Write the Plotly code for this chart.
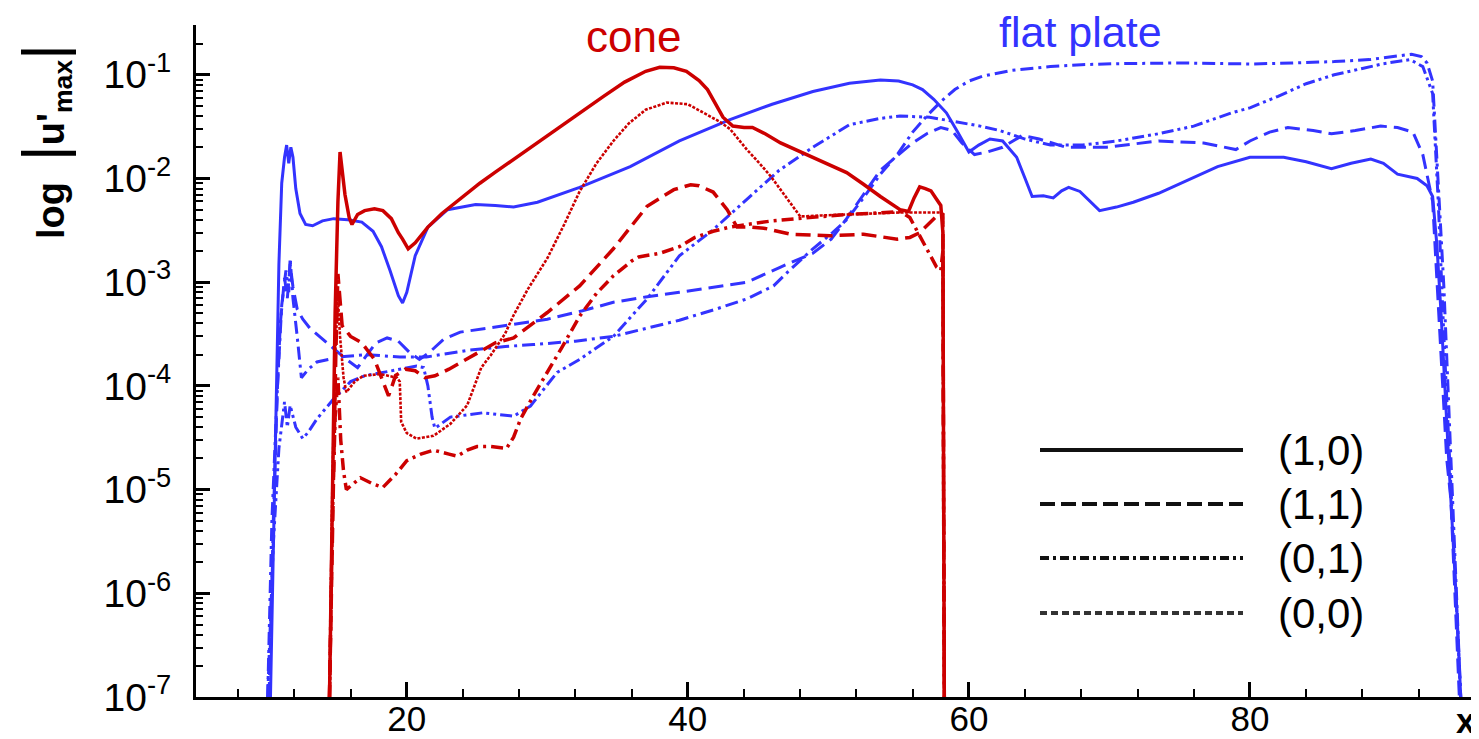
import plotly.graph_objects as go

# ---------------- data ----------------
# flat plate (blue)
fp_x_10 = [10.3, 10.5, 10.7, 10.9, 11.1, 11.3, 11.45, 11.6, 11.75, 11.9, 12.1, 12.4, 12.8, 13.3, 14.0, 14.8, 15.8, 16.8, 17.6, 18.2, 18.8, 19.4, 19.7, 20.0, 20.6, 21.5, 22.9, 24.9, 26.3, 27.6, 29.3, 32.3, 35.9, 39.4, 43.0, 46.0, 48.9, 51.5, 53.7, 55.0, 56.0, 56.7, 57.5, 58.4, 59.2, 60.0, 60.7, 61.5, 62.4, 63.4, 64.0, 64.5, 65.3, 66.0, 66.6, 67.1, 67.9, 68.6, 69.3, 70.5, 71.7, 73.5, 75.2, 77.7, 80.0, 82.4, 84.0, 85.8, 87.2, 88.6, 89.5, 90.5, 91.9, 92.6, 93.0, 93.3, 93.6, 93.8, 94.1, 94.3, 94.7, 95.0]
fp_y_10 = [1e-7, 3e-6, 1e-4, 1.5e-3, 9e-3, 0.016, 0.021, 0.014, 0.02, 0.016, 8e-3, 4.6e-3, 3.6e-3, 3.5e-3, 3.9e-3, 4.1e-3, 4.0e-3, 3.8e-3, 3.1e-3, 2.2e-3, 1.3e-3, 7.4e-4, 6.3e-4, 8e-4, 1.8e-3, 3.4e-3, 5.0e-3, 5.6e-3, 5.5e-3, 5.3e-3, 5.9e-3, 8.2e-3, 0.013, 0.023, 0.037, 0.052, 0.069, 0.083, 0.089, 0.087, 0.08, 0.072, 0.058, 0.043, 0.028, 0.018, 0.021, 0.024, 0.023, 0.016, 0.01, 6.7e-3, 6.8e-3, 6.5e-3, 7.6e-3, 8.2e-3, 7.5e-3, 6e-3, 4.9e-3, 5.3e-3, 5.9e-3, 7.2e-3, 9.2e-3, 0.013, 0.016, 0.016, 0.0145, 0.0124, 0.014, 0.0154, 0.014, 0.011, 0.010, 8.5e-3, 6.7e-3, 2.3e-3, 5e-4, 1.35e-4, 2.5e-5, 7.9e-6, 8e-7, 1e-7]

fp_x_11 = [10.2, 10.5, 10.8, 11.0, 11.3, 11.5, 11.7, 11.9, 12.2, 12.6, 13.1, 13.9, 14.8, 15.7, 16.5, 17.2, 17.8, 18.6, 19.4, 20.2, 20.9, 21.6, 22.6, 23.8, 25.2, 27.5, 30.0, 32.5, 34.7, 37.0, 39.4, 42.0, 44.2, 46.6, 48.9, 50.2, 51.3, 52.5, 53.7, 55.0, 56.0, 57.0, 58.0, 58.8, 59.5, 60.4, 61.3, 62.4, 63.8, 65.0, 66.9, 69.8, 73.5, 76.7, 79.0, 80.0, 81.4, 82.7, 84.5, 85.8, 87.5, 89.3, 90.5, 91.6, 92.3, 93.0, 93.5, 94.0, 94.3, 94.9]
fp_y_11 = [1e-7, 5e-6, 1e-4, 4e-4, 1.1e-3, 7e-4, 1.5e-3, 9e-4, 5.5e-4, 4.4e-4, 3.6e-4, 2.9e-4, 2.3e-4, 1.8e-4, 1.5e-4, 2.0e-4, 2.6e-4, 2.9e-4, 2.7e-4, 2.1e-4, 1.8e-4, 2.1e-4, 2.8e-4, 3.3e-4, 3.5e-4, 3.9e-4, 4.4e-4, 5.3e-4, 6.4e-4, 7.2e-4, 8e-4, 9e-4, 1.0e-3, 1.4e-3, 1.9e-3, 2.6e-3, 4.1e-3, 7e-3, 0.012, 0.017, 0.022, 0.027, 0.031, 0.029, 0.022, 0.017, 0.018, 0.020, 0.026, 0.024, 0.020, 0.020, 0.023, 0.022, 0.019, 0.023, 0.028, 0.031, 0.029, 0.027, 0.029, 0.032, 0.031, 0.028, 0.017, 6e-3, 3.5e-4, 2e-5, 8e-6, 1e-7]

fp_x_01 = [10.1, 10.4, 10.8, 11.1, 11.4, 11.6, 11.7, 11.9, 12.2, 12.5, 13.0, 13.6, 15.2, 17.1, 19.5, 21.4, 24.3, 27.0, 29.0, 32.0, 34.7, 37.0, 39.4, 42.0, 44.2, 46.1, 47.1, 48.9, 50.3, 51.3, 52.5, 53.7, 54.9, 56.0, 57.0, 58.0, 59.0, 60.0, 61.0, 63.0, 65.8, 68.0, 70.5, 75.2, 80.0, 83.0, 86.0, 88.5, 90.5, 91.5, 92.2, 92.6, 93.0, 93.3, 93.8, 94.3, 95.0]
fp_y_01 = [1e-7, 5e-6, 1e-4, 6e-4, 1.3e-3, 8e-4, 1.7e-3, 7e-4, 3e-4, 1.2e-4, 1.45e-4, 1.7e-4, 1.9e-4, 2.0e-4, 1.9e-4, 1.9e-4, 2.2e-4, 2.4e-4, 2.5e-4, 2.7e-4, 3.0e-4, 3.6e-4, 4.3e-4, 5.5e-4, 6.9e-4, 9.2e-4, 1.25e-3, 2.1e-3, 3e-3, 4e-3, 6.5e-3, 0.011, 0.017, 0.028, 0.040, 0.055, 0.072, 0.087, 0.097, 0.11, 0.12, 0.125, 0.128, 0.130, 0.127, 0.13, 0.134, 0.14, 0.152, 0.158, 0.15, 0.13, 0.087, 0.016, 9e-4, 2e-5, 1e-7]

fp_x_00 = [10.1, 10.5, 10.9, 11.3, 11.5, 11.7, 12.1, 12.6, 13.0, 13.6, 14.8, 16.0, 17.0, 18.3, 19.5, 20.7, 21.2, 21.5, 21.8, 22.0, 23.1, 25.4, 27.6, 28.8, 30.7, 32.3, 34.7, 37.1, 39.4, 41.8, 44.2, 46.5, 48.9, 51.5, 53.7, 55.1, 57.2, 58.7, 60.8, 62.2, 64.0, 65.8, 68.1, 70.5, 73.5, 76.0, 78.7, 80.0, 82.0, 84.0, 86.0, 88.0, 89.5, 91.4, 92.3, 93.0, 93.4, 93.8, 94.3, 95.0]
fp_y_00 = [1e-7, 3e-6, 2.5e-5, 7e-5, 4e-5, 6.5e-5, 4e-5, 3.1e-5, 3.6e-5, 4.8e-5, 7.5e-5, 1.1e-4, 1.25e-4, 1.35e-4, 1.45e-4, 1.55e-4, 1.5e-4, 1e-4, 5e-5, 3.9e-5, 5.0e-5, 5.5e-5, 5.1e-5, 6.4e-5, 1.35e-4, 1.8e-4, 3.0e-4, 6.9e-4, 1.8e-3, 3.2e-3, 6.3e-3, 0.012, 0.020, 0.033, 0.038, 0.040, 0.039, 0.036, 0.032, 0.029, 0.024, 0.021, 0.021, 0.023, 0.027, 0.032, 0.043, 0.048, 0.062, 0.082, 0.1, 0.115, 0.128, 0.14, 0.12, 0.066, 6e-3, 3e-4, 1e-5, 1e-7]

# cone (red)
cone_x_10 = [14.5, 14.7, 14.9, 15.1, 15.25, 15.4, 15.6, 15.9, 16.1, 16.5, 17.0, 17.7, 18.3, 18.9, 19.4, 19.7, 20.1, 20.6, 21.5, 22.5, 23.9, 25.2, 26.3, 27.5, 29.5, 31.0, 32.5, 34.0, 35.5, 37.0, 38.0, 39.0, 39.9, 40.8, 41.4, 42.0, 42.5, 43.2, 44.0, 44.6, 45.5, 46.6, 48.0, 48.9, 50.0, 51.3, 52.5, 53.7, 55.1, 55.7, 56.1, 56.5, 56.9, 57.3, 57.7, 58.0, 58.15, 58.2, 58.25]
cone_y_10 = [1e-7, 1e-5, 5e-4, 6e-3, 0.018, 0.012, 7e-3, 4.2e-3, 3.6e-3, 4.5e-3, 4.9e-3, 5.1e-3, 4.9e-3, 4.1e-3, 3.0e-3, 2.6e-3, 2.1e-3, 2.4e-3, 3.4e-3, 4.6e-3, 6.6e-3, 9.0e-3, 0.0115, 0.015, 0.023, 0.032, 0.045, 0.062, 0.085, 0.108, 0.118, 0.117, 0.108, 0.088, 0.072, 0.052, 0.039, 0.032, 0.031, 0.031, 0.027, 0.022, 0.018, 0.016, 0.0135, 0.0114, 8.8e-3, 6.7e-3, 5.0e-3, 4.8e-3, 6.5e-3, 8.3e-3, 8.0e-3, 7.6e-3, 6.3e-3, 5.5e-3, 3e-3, 1e-5, 1e-7]

cone_x_11 = [14.5, 14.75, 14.95, 15.1, 15.25, 15.4, 16.0, 16.8, 17.7, 18.2, 18.5, 18.7, 18.9, 19.2, 19.9, 20.6, 21.3, 22.0, 23.0, 23.9, 25.2, 26.3, 27.6, 30.0, 32.3, 34.7, 37.1, 39.0, 40.2, 40.8, 41.8, 42.8, 43.5, 44.5, 45.5, 47.3, 50.1, 52.5, 54.9, 55.8, 56.5, 57.1, 57.6, 58.0, 58.15, 58.2, 58.25]
cone_y_11 = [1e-7, 1e-5, 2e-4, 1.2e-3, 6e-4, 3.8e-4, 3e-4, 2.6e-4, 1.8e-4, 1.2e-4, 9e-5, 8e-5, 9.5e-5, 1.26e-4, 1.45e-4, 1.4e-4, 1.2e-4, 1.25e-4, 1.45e-4, 1.7e-4, 2.1e-4, 2.6e-4, 2.9e-4, 5.1e-4, 9.2e-4, 2.1e-3, 5.4e-3, 7.8e-3, 8.7e-3, 8.5e-3, 7.4e-3, 5.0e-3, 3.4e-3, 3.4e-3, 3.3e-3, 2.9e-3, 2.8e-3, 2.9e-3, 2.6e-3, 2.7e-3, 3.0e-3, 3.6e-3, 4.2e-3, 4.6e-3, 4.5e-3, 1e-5, 1e-7]

cone_x_01 = [14.5, 14.7, 14.9, 15.1, 15.3, 15.5, 15.7, 16.2, 16.7, 17.5, 18.3, 19.2, 20.0, 21.0, 21.9, 23.0, 23.6, 24.3, 25.0, 26.0, 27.1, 27.6, 28.1, 29.0, 30.0, 31.0, 32.3, 33.5, 34.7, 35.5, 36.0, 36.5, 37.1, 38.0, 39.4, 40.5, 41.8, 43.0, 44.2, 46.0, 47.8, 49.5, 51.3, 53.0, 55.1, 55.8, 56.4, 56.9, 57.3, 57.7, 58.0, 58.15, 58.2, 58.25]
cone_y_01 = [1e-7, 5e-6, 5e-5, 1.2e-4, 3e-5, 1.5e-5, 1e-5, 1.15e-5, 1.3e-5, 1.15e-5, 1.05e-5, 1.4e-5, 1.9e-5, 2.2e-5, 2.4e-5, 2.2e-5, 2.1e-5, 2.4e-5, 2.6e-5, 2.6e-5, 2.5e-5, 3.2e-5, 4.8e-5, 8e-5, 1.35e-4, 2.3e-4, 4.7e-4, 7.8e-4, 1.15e-3, 1.4e-3, 1.6e-3, 1.75e-3, 1.8e-3, 1.9e-3, 2.2e-3, 2.7e-3, 3.1e-3, 3.4e-3, 3.6e-3, 3.9e-3, 4.1e-3, 4.3e-3, 4.5e-3, 4.6e-3, 4.8e-3, 4.2e-3, 3.0e-3, 2.2e-3, 1.8e-3, 1.4e-3, 1.3e-3, 2.0e-3, 1e-5, 1e-7]

cone_x_00 = [14.5, 14.7, 14.9, 15.1, 15.25, 15.5, 15.7, 16.3, 16.9, 18.1, 19.3, 19.5, 19.6, 20.0, 20.7, 21.9, 23.1, 24.3, 25.3, 26.0, 27.0, 27.6, 28.6, 30.0, 31.2, 32.3, 33.5, 34.7, 35.8, 37.0, 38.5, 40.0, 41.4, 42.3, 43.0, 44.2, 45.0, 45.9, 47.1, 48.0, 49.5, 51.3, 53.0, 55.1, 57.0, 58.0, 58.15, 58.2, 58.25]
cone_y_00 = [1e-7, 1e-5, 2e-4, 7e-4, 3e-4, 1.2e-4, 8.7e-5, 1.1e-4, 1.25e-4, 1.3e-4, 1.2e-4, 1.1e-4, 4.5e-5, 3.5e-5, 3.1e-5, 3.3e-5, 4.3e-5, 6.5e-5, 1.5e-4, 2.0e-4, 3.2e-4, 4.8e-4, 8.5e-4, 1.7e-3, 3.6e-3, 7.5e-3, 0.014, 0.023, 0.034, 0.046, 0.054, 0.052, 0.041, 0.035, 0.030, 0.019, 0.0145, 0.0105, 6.3e-3, 4.3e-3, 4.4e-3, 4.5e-3, 4.6e-3, 4.7e-3, 4.7e-3, 4.7e-3, 4.5e-3, 1e-5, 1e-7]

y_tick_vals = [1e-7, 1e-6, 1e-5, 1e-4, 1e-3, 1e-2, 1e-1]
y_tick_text = ["10<sup>-7</sup>", "10<sup>-6</sup>", "10<sup>-5</sup>", "10<sup>-4</sup>",
               "10<sup>-3</sup>", "10<sup>-2</sup>", "10<sup>-1</sup>"]
x_tick_vals = [20, 40, 60, 80]
legend_labels = ["(1,0)", "(1,1)", "(0,1)", "(0,0)"]

# ---------------- styles ----------------
RED = "rgb(204,0,0)"
BLUE = "rgb(51,51,255)"
FONT = "Liberation Sans, Arial, Helvetica, sans-serif"

# the page body adds an 8 px offset, so the figure is 8 px smaller and margins shifted
W, H = 1471, 731
ML, MT, MB, MR = 188, 17, 42, 0
PW, PH = W - ML - MR, H - MT - MB   # 1283 x 672


def px(xpix):   # reference page pixel -> paper x
    return (xpix - 196) / PW


def py(ypix):   # reference page pixel -> paper y
    return (697 - ypix) / PH


fig = go.Figure()

blue_series = [
    (fp_x_10, fp_y_10, "solid", 3),
    (fp_x_11, fp_y_11, "15px,7px", 3),
    (fp_x_01, fp_y_01, "13px,5px,3px,5px", 3),
    (fp_x_00, fp_y_00, "12px,4px,3px,4px,3px,4px", 3),
]
red_series = [
    (cone_x_10, cone_y_10, "solid", 3.5),
    (cone_x_11, cone_y_11, "15px,7px", 3.5),
    (cone_x_01, cone_y_01, "12px,5px,3px,5px", 3.5),
    (cone_x_00, cone_y_00, "3px,1.5px", 2.6),
]
for xs, ys, dash, w in blue_series:
    fig.add_trace(go.Scatter(x=xs, y=ys, mode="lines", showlegend=False,
                             line=dict(color=BLUE, width=w, dash=dash)))
for xs, ys, dash, w in red_series:
    fig.add_trace(go.Scatter(x=xs, y=ys, mode="lines", showlegend=False,
                             line=dict(color=RED, width=w, dash=dash)))

# legend drawn manually (long line samples)
leg_dash = ["solid", "15px,6px", "9px,4px,3px,4px", "7px,4px"]
leg_col = ["#111111", "#111111", "#111111", "#333333"]
leg_ypix = [450, 504, 558, 613]
for lab, dsh, col, yp in zip(legend_labels, leg_dash, leg_col, leg_ypix):
    fig.add_shape(type="line", xref="paper", yref="paper", x0=px(1040), x1=px(1243),
                  y0=py(yp), y1=py(yp), line=dict(color=col, width=4, dash=dsh))
    fig.add_annotation(xref="paper", yref="paper", x=px(1276), y=py(yp), text=lab,
                       showarrow=False, xanchor="left", yanchor="middle",
                       font=dict(family=FONT, size=42, color="black"))

fig.add_annotation(xref="paper", yref="paper", x=px(633), y=py(36),
                   text="cone", showarrow=False, xanchor="center", yanchor="middle",
                   font=dict(family=FONT, size=44, color=RED))
fig.add_annotation(xref="paper", yref="paper", x=px(1080), y=py(32),
                   text="flat plate", showarrow=False, xanchor="center", yanchor="middle",
                   font=dict(family=FONT, size=43, color=BLUE))

# axis titles
BAR = "<span style='font-weight:normal;font-size:60px'>|</span>"
fig.add_annotation(xref="paper", yref="paper", x=px(44), y=py(142),
                   text="<b>log  " + BAR + "u'<sub>max</sub>" + BAR + "</b>",
                   textangle=-90, showarrow=False, xanchor="center", yanchor="middle",
                   font=dict(family=FONT, size=38, color="black"))
fig.add_annotation(xref="paper", yref="paper", x=px(1466), y=py(720),
                   text="<b>x</b>", showarrow=False, xanchor="center", yanchor="middle",
                   font=dict(family=FONT, size=35, color="black"))

fig.update_xaxes(range=[5, 96.3], tickmode="array", tickvals=x_tick_vals,
                 ticks="inside", ticklen=15, tickwidth=3, tickcolor="black",
                 showline=True, linecolor="black", linewidth=3, mirror=False,
                 showgrid=False, zeroline=False, automargin=False,
                 ticklabelstandoff=-11,
                 tickfont=dict(family=FONT, size=35, color="black"),
                 minor=dict(ticks="inside", ticklen=8, tickwidth=2, tickcolor="black",
                            dtick=4, tick0=0, showgrid=False))
fig.update_yaxes(type="log", range=[-7, -0.52], tickmode="array",
                 tickvals=y_tick_vals, ticktext=y_tick_text,
                 ticks="inside", ticklen=14, tickwidth=3, tickcolor="black",
                 showline=True, linecolor="black", linewidth=3, mirror=False,
                 showgrid=False, zeroline=False, automargin=False,
                 ticklabelstandoff=14,
                 tickfont=dict(family=FONT, size=39, color="black"),
                 minor=dict(ticks="inside", ticklen=7, tickwidth=2, tickcolor="black",
                            dtick="D1", showgrid=False))

fig.update_layout(width=W, height=H, plot_bgcolor="white", paper_bgcolor="white",
                  margin=dict(l=ML, r=MR, t=MT, b=MB), showlegend=False)

fig.write_html("out.html")
